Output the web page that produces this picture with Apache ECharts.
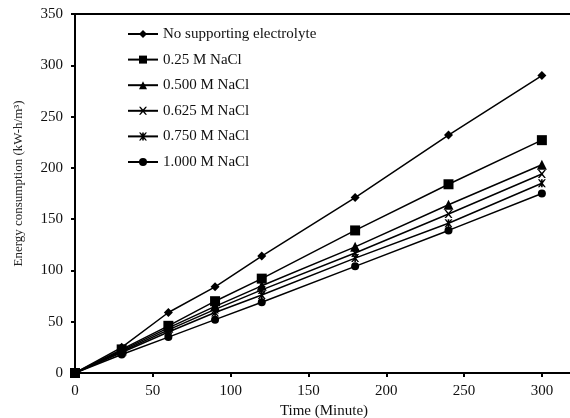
<!DOCTYPE html>
<html>
<head>
<meta charset="utf-8">
<script src="https://cdn.jsdelivr.net/npm/echarts@6/dist/echarts.min.js"></script>
<style>
  html, body { margin: 0; padding: 0; background: #fff; }
  #chart { width: 570px; height: 418px; }
</style>
</head>
<body>
<div id="chart"></div>
<script>
// Sampling times (minutes)
const times = [0, 30, 60, 90, 120, 180, 240, 300];

// Energy consumption (kW-h/m3) for each electrolyte condition
const noElectrolyte = [0, 25, 59, 84, 114, 171, 232, 290];
const nacl0250 = [0, 23, 46, 70, 92, 139, 184, 227];
const nacl0500 = [0, 22, 44, 65, 85, 123, 164, 203];
const nacl0625 = [0, 21, 42, 62, 81, 117, 155, 194];
const nacl0750 = [0, 20, 40, 59, 76, 112, 146, 185];
const nacl1000 = [0, 18, 35, 52, 69, 104, 139, 175];

const seriesNames = [
  'No supporting electrolyte',
  '0.25 M NaCl',
  '0.500 M NaCl',
  '0.625 M NaCl',
  '0.750 M NaCl',
  '1.000 M NaCl'
];

// Cross and asterisk marker outlines
const crossPath = 'path://M0,0L2,0L5,3.5L8,0L10,0L6.2,5L10,10L8,10L5,6.5L2,10L0,10L3.8,5Z';
const starPath = 'path://M0,0L2,0L5,3.5L8,0L10,0L6.2,5L10,10L8,10L5,6.5L2,10L0,10L3.8,5Z M4,0L6,0L6,10L4,10Z';

const seriesValues = [noElectrolyte, nacl0250, nacl0500, nacl0625, nacl0750, nacl1000];
const symbols = ['diamond', 'rect', 'triangle', crossPath, starPath, 'circle'];
const symbolSizes = [9, 10, 10, 8, 8, 8];

const font = '"Liberation Serif", "Times New Roman", serif';

const chart = echarts.init(document.getElementById('chart'), null, { renderer: 'canvas' });

chart.setOption({
  animation: false,
  backgroundColor: '#fff',
  textStyle: { fontFamily: font },
  grid: {
    left: 75,
    right: -3,
    top: 14,
    bottom: 45,
    outerBoundsMode: 'none',
    containLabel: false,
    show: true,
    borderColor: '#000',
    borderWidth: 2,
    backgroundColor: 'transparent'
  },
  legend: {
    orient: 'vertical',
    left: 127,
    top: 25.5,
    padding: 0,
    itemWidth: 30,
    itemHeight: 10,
    itemGap: 8.6,
    data: seriesNames,
    textStyle: { fontFamily: font, fontSize: 15, color: '#111', lineHeight: 17 }
  },
  xAxis: {
    type: 'value',
    min: 0,
    max: 320,
    interval: 50,
    name: 'Time (Minute)',
    nameLocation: 'middle',
    nameGap: 30,
    nameTextStyle: { fontFamily: font, fontSize: 15, color: '#111' },
    axisLine: { show: true, onZero: false, lineStyle: { color: '#000', width: 2 } },
    axisTick: { show: true, inside: false, length: 4, lineStyle: { color: '#000', width: 2 } },
    axisLabel: { margin: 11, fontFamily: font, fontSize: 15, color: '#111', showMaxLabel: false },
    splitLine: { show: false }
  },
  yAxis: {
    type: 'value',
    min: 0,
    max: 350,
    interval: 50,
    name: 'Energy consumption (kW-h/m³)',
    nameLocation: 'middle',
    nameGap: 50,
    nameTextStyle: { fontFamily: font, fontSize: 13, color: '#222', padding: [0, 0, 0, 20] },
    axisLine: { show: true, lineStyle: { color: '#000', width: 2 } },
    axisTick: { show: true, inside: false, length: 4, lineStyle: { color: '#000', width: 2 } },
    axisLabel: { margin: 12, fontFamily: font, fontSize: 15, color: '#111' },
    splitLine: { show: false }
  },
  series: seriesNames.map((name, i) => ({
    name: name,
    type: 'line',
    data: times.map((t, j) => [t, seriesValues[i][j]]),
    symbol: symbols[i],
    symbolSize: symbolSizes[i],
    showAllSymbol: true,
    clip: false,
    lineStyle: { color: '#000', width: 1.5 },
    itemStyle: { color: '#000', borderWidth: 0 },
    z: 10 - i
  }))
});
</script>
</body>
</html>
